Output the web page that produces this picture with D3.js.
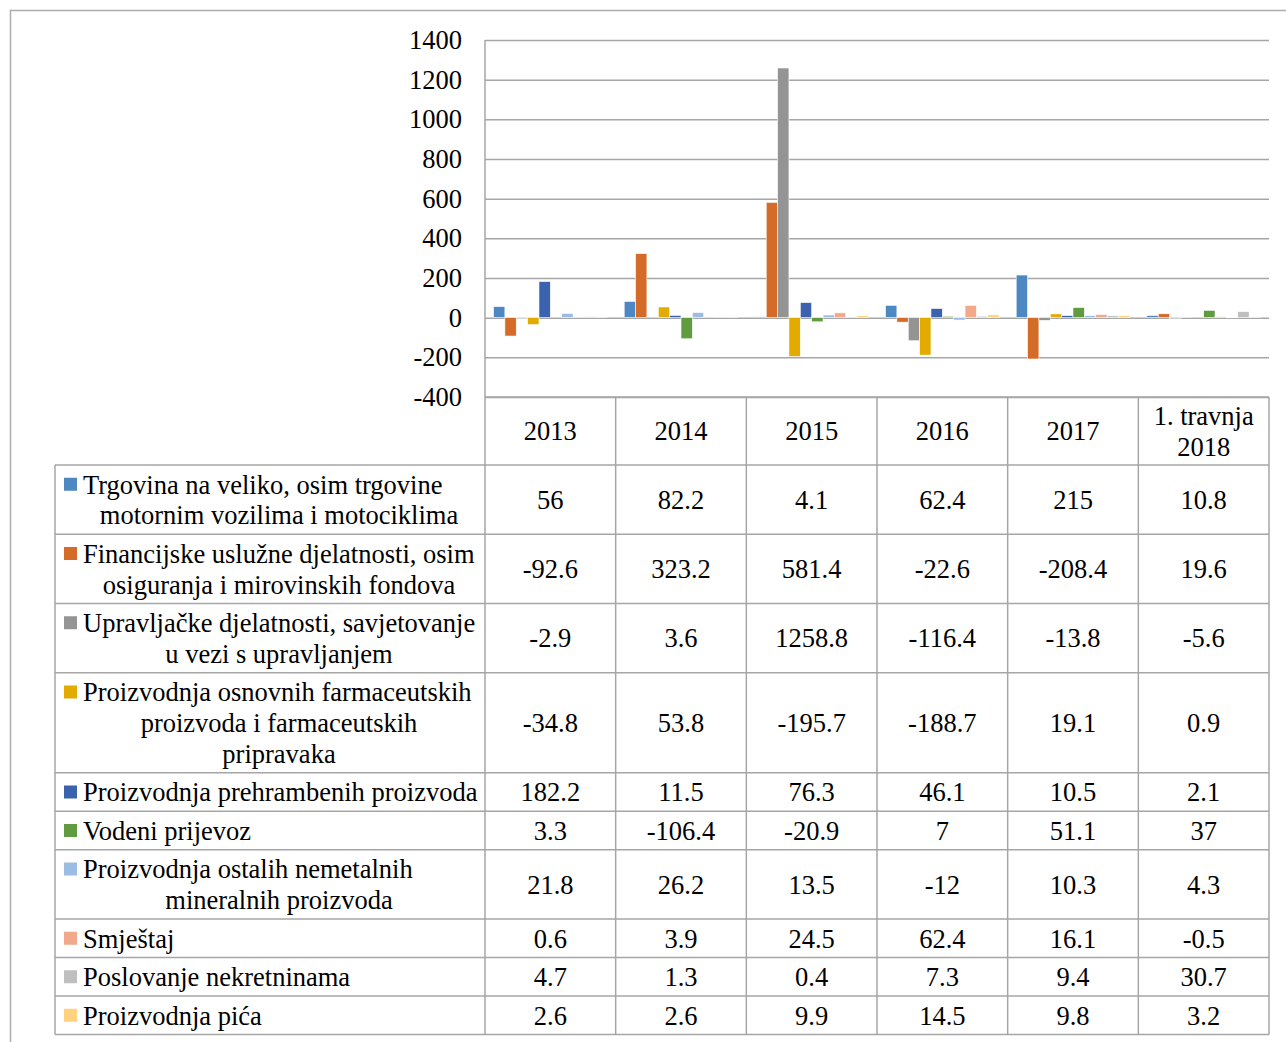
<!DOCTYPE html>
<html><head><meta charset="utf-8">
<script src="https://cdn.jsdelivr.net/npm/d3@7"></script>
<style>
html,body{margin:0;padding:0;background:#fff;}
svg text{font-family:"Liberation Serif","Times New Roman",serif;fill:#000;}
</style></head>
<body>
<svg id="chart" width="1286" height="1042"></svg>
<script>
// ---------- data ----------
const categories = ["2013", "2014", "2015", "2016", "2017", "1. travnja 2018"];
const categoryHeaderLines = [["2013"], ["2014"], ["2015"], ["2016"], ["2017"], ["1. travnja", "2018"]];
const seriesNames = [
  "Trgovina na veliko, osim trgovine motornim vozilima i motociklima",
  "Financijske uslužne djelatnosti, osim osiguranja i mirovinskih fondova",
  "Upravljačke djelatnosti, savjetovanje u vezi s upravljanjem",
  "Proizvodnja osnovnih farmaceutskih proizvoda i farmaceutskih pripravaka",
  "Proizvodnja prehrambenih proizvoda",
  "Vodeni prijevoz",
  "Proizvodnja ostalih nemetalnih mineralnih proizvoda",
  "Smještaj",
  "Poslovanje nekretninama",
  "Proizvodnja pića"
];
const seriesLabelLines = [
  ["Trgovina na veliko, osim trgovine", "motornim vozilima i motociklima"],
  ["Financijske uslužne djelatnosti, osim", "osiguranja i mirovinskih fondova"],
  ["Upravljačke djelatnosti, savjetovanje", "u vezi s upravljanjem"],
  ["Proizvodnja osnovnih farmaceutskih", "proizvoda i farmaceutskih", "pripravaka"],
  ["Proizvodnja prehrambenih proizvoda"],
  ["Vodeni prijevoz"],
  ["Proizvodnja ostalih nemetalnih", "mineralnih proizvoda"],
  ["Smještaj"],
  ["Poslovanje nekretninama"],
  ["Proizvodnja pića"]
];
const trgovina      = [56, 82.2, 4.1, 62.4, 215, 10.8];
const financijske   = [-92.6, 323.2, 581.4, -22.6, -208.4, 19.6];
const upravljacke   = [-2.9, 3.6, 1258.8, -116.4, -13.8, -5.6];
const farmaceutske  = [-34.8, 53.8, -195.7, -188.7, 19.1, 0.9];
const prehrambeni   = [182.2, 11.5, 76.3, 46.1, 10.5, 2.1];
const vodeni        = [3.3, -106.4, -20.9, 7, 51.1, 37];
const nemetalni     = [21.8, 26.2, 13.5, -12, 10.3, 4.3];
const smjestaj      = [0.6, 3.9, 24.5, 62.4, 16.1, -0.5];
const nekretnine    = [4.7, 1.3, 0.4, 7.3, 9.4, 30.7];
const pica          = [2.6, 2.6, 9.9, 14.5, 9.8, 3.2];
const seriesValues = [trgovina, financijske, upravljacke, farmaceutske, prehrambeni, vodeni, nemetalni, smjestaj, nekretnine, pica];
const seriesColors = ["#4E88C2", "#D46B28", "#949494", "#E3AA00", "#3B62AE", "#619B40", "#9BBDE4", "#F2A88A", "#BFBFBF", "#FFD27F"];
const yTicks = [-400, -200, 0, 200, 400, 600, 800, 1000, 1200, 1400];

// ---------- layout ----------
const svg = d3.select("#chart");
const plotLeft = 485, plotRight = 1269, plotTop = 40, plotBottom = 397;
const tableLeft = 55;
const lineH = 30.75;
const rowPad = 7.75;
const fs = 26.5;
const gridColor = "#A6A6A6";

// outer frame
svg.append("path").attr("d", "M10.5,1042 V10.5 H1286").attr("fill", "none").attr("stroke", "#ADADAD").attr("stroke-width", 1.5);

const x = d3.scaleBand().domain(categories).range([plotLeft, plotRight]).padding(0);
const xs = d3.scaleBand().domain(d3.range(seriesNames.length)).range([0, x.bandwidth()]).paddingInner(0).paddingOuter(0.75);
const y = d3.scaleLinear().domain([-400, 1400]).range([plotBottom, plotTop]);

// gridlines + tick labels
const yAxis = d3.axisLeft(y).tickValues(yTicks).tickSize(-(plotRight - plotLeft)).tickFormat(d => String(d)).tickPadding(23);
const gA = svg.append("g").attr("transform", `translate(${plotLeft},0)`).call(yAxis);
gA.select(".domain").remove();
gA.selectAll(".tick line").attr("stroke", gridColor).attr("stroke-width", 1.5);
gA.selectAll(".tick text").attr("font-size", fs).attr("font-family", "Liberation Serif").attr("fill", "#000");

// vertical axis line
svg.append("line").attr("x1", plotLeft).attr("x2", plotLeft).attr("y1", plotTop).attr("y2", plotBottom)
  .attr("stroke", gridColor).attr("stroke-width", 1.5);

// bars
const gBars = svg.append("g");
seriesValues.forEach((vals, si) => {
  gBars.selectAll(null).data(vals.map((v, ci) => ({v, c: categories[ci]}))).enter().append("rect")
    .attr("x", d => x(d.c) + xs(si))
    .attr("width", xs.bandwidth())
    .attr("y", d => y(Math.max(0, d.v)))
    .attr("height", d => Math.abs(y(d.v) - y(0)))
    .attr("fill", seriesColors[si])
    .attr("stroke", "#fff").attr("stroke-width", 0.6);
});

// ---------- data table ----------
const headerTop = plotBottom, headerH = 68;
const rowHeights = seriesLabelLines.map(l => l.length * lineH + rowPad);
const rowTops = [];
let acc = headerTop + headerH;
rowHeights.forEach(h => { rowTops.push(acc); acc += h; });
const tableBottom = acc;

const gT = svg.append("g");
const lineAttr = sel => sel.attr("stroke", gridColor).attr("stroke-width", 1.5);

gT.append("line").attr("x1", plotLeft).attr("x2", plotRight).attr("y1", headerTop).attr("y2", headerTop).call(lineAttr);
rowTops.concat([tableBottom]).forEach(t => {
  gT.append("line").attr("x1", tableLeft).attr("x2", plotRight).attr("y1", t).attr("y2", t).call(lineAttr);
});
const colEdges = categories.map(c => x(c)).concat([plotRight]);
colEdges.forEach(cx => {
  gT.append("line").attr("x1", cx).attr("x2", cx).attr("y1", headerTop).attr("y2", tableBottom).call(lineAttr);
});
gT.append("line").attr("x1", tableLeft).attr("x2", tableLeft).attr("y1", rowTops[0]).attr("y2", tableBottom).call(lineAttr);

// header text
categories.forEach((c, ci) => {
  const lines = categoryHeaderLines[ci];
  const cx = x(c) + x.bandwidth() / 2;
  const start = headerTop + (headerH - lines.length * lineH) / 2 + lineH / 2;
  lines.forEach((ln, li) => {
    gT.append("text").attr("x", cx).attr("y", start + li * lineH).attr("dy", "0.35em")
      .attr("text-anchor", "middle").attr("font-size", fs).text(ln);
  });
});

// rows
seriesLabelLines.forEach((lines, si) => {
  const top = rowTops[si], h = rowHeights[si];
  const start = top + (h - lines.length * lineH) / 2 + lineH / 2;
  gT.append("rect").attr("x", 64).attr("y", start - 6.5).attr("width", 13).attr("height", 13).attr("fill", seriesColors[si]);
  lines.forEach((ln, li) => {
    const t = gT.append("text").attr("y", start + li * lineH).attr("dy", "0.35em").attr("font-size", fs).text(ln);
    if (li === 0) t.attr("x", 83).attr("text-anchor", "start");
    else t.attr("x", 279).attr("text-anchor", "middle");
  });
  seriesValues[si].forEach((v, ci) => {
    gT.append("text").attr("x", x(categories[ci]) + x.bandwidth() / 2).attr("y", top + h / 2).attr("dy", "0.35em")
      .attr("text-anchor", "middle").attr("font-size", fs).text(String(v));
  });
});
</script>
</body></html>
